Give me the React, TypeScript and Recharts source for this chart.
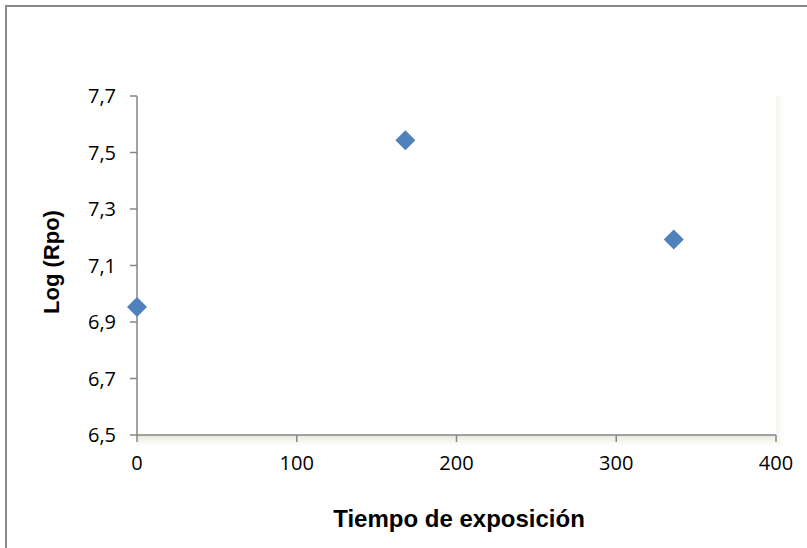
import { ScatterChart, Scatter, XAxis, YAxis, Label } from 'recharts';

// Tiempo de exposición (h) vs Log (Rpo)
const tiempos = [0, 168, 336];
const logRpo = [6.953, 7.543, 7.192];
const xTicks = [0, 100, 200, 300, 400];
const yTicks = [6.5, 6.7, 6.9, 7.1, 7.3, 7.5, 7.7];

const data = tiempos.map((t, i) => ({ x: t, y: logRpo[i] }));

const axisColor = '#868686';
const tickFont = { fontFamily: '"Open Sans", "Liberation Sans", sans-serif', fontSize: 20, fill: '#000' };
const titleFont = { fontFamily: '"Liberation Sans", Arial, sans-serif', fontWeight: 700, fill: '#000' };

// rombo cuadrado (girado 45°), no el rombo alargado de d3
const Diamond = (props: any) => {
  const { cx, cy } = props;
  const r = 10;
  return (
    <polygon
      points={`${cx},${cy - r} ${cx + r},${cy} ${cx},${cy + r} ${cx - r},${cy}`}
      fill="#4F81BD"
    />
  );
};

export default function App() {
  return (
    <div style={{ position: 'absolute', left: 0, top: 0, width: 807, height: 548, background: '#fff', overflow: 'hidden' }}>
      {/* marco del gráfico */}
      <div style={{ position: 'absolute', left: 5, top: 5, width: 820, height: 560, border: '2px solid #8a8a8a', boxSizing: 'border-box' }} />
      {/* sombra bajo el eje X */}
      <div style={{ position: 'absolute', left: 137, top: 435, width: 639, height: 11, background: 'linear-gradient(#ebe9dc, rgba(255,255,255,0))' }} />
      <div style={{ position: 'absolute', left: 776, top: 96, width: 8, height: 349, background: 'linear-gradient(90deg, #f6f5ef, rgba(255,255,255,0))' }} />
      <div style={{ position: 'absolute', left: 0, top: 0 }}>
        <ScatterChart width={807} height={548} margin={{ top: 96, right: 31, bottom: 53, left: 77 }}>
          <XAxis
            type="number"
            dataKey="x"
            domain={[0, 400]}
            ticks={xTicks}
            interval={0}
            height={60}
            stroke={axisColor}
            strokeWidth={1.5}
            tickSize={7}
            tick={tickFont}
            tickMargin={14}
          >
            <Label
              content={() => (
                <text x={459} y={527} textAnchor="middle" style={{ ...titleFont, fontSize: 24 }}>
                  Tiempo de exposición
                </text>
              )}
            />
          </XAxis>
          <YAxis
            type="number"
            dataKey="y"
            domain={[6.5, 7.7]}
            ticks={yTicks}
            interval={0}
            width={60}
            stroke={axisColor}
            strokeWidth={1.5}
            tickSize={7}
            tick={tickFont}
            tickMargin={14}
            tickFormatter={(v) => Number(v).toFixed(1).replace('.', ',')}
          >
            <Label
              content={() => (
                <text x={59} y={262} textAnchor="middle" transform="rotate(-90, 59, 262)" style={{ ...titleFont, fontSize: 22 }}>
                  Log (Rpo)
                </text>
              )}
            />
          </YAxis>
          <Scatter data={data} shape={<Diamond />} isAnimationActive={false} />
        </ScatterChart>
      </div>
    </div>
  );
}
